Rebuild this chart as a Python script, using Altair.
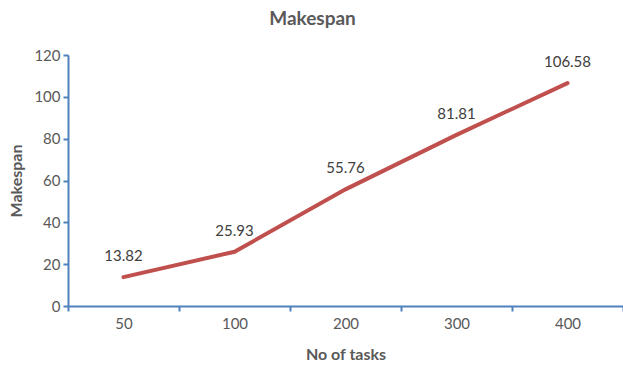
import altair as alt
import pandas as pd

# Makespan for each task count
tasks = ["50", "100", "200", "300", "400"]
makespan = [13.82, 25.93, 55.76, 81.81, 106.58]
labels = ["13.82", "25.93", "55.76", "81.81", "106.58"]

df = pd.DataFrame({"tasks": tasks, "makespan": makespan, "label": labels})

FONT = "Lato"
AXIS_BLUE = "#4F81BD"
TEXT_GREY = "#595959"
LINE_RED = "#C0504D"

x_enc = alt.X(
    "tasks:N",
    sort=tasks,
    bandPosition=0.5,
    scale=alt.Scale(type="band", paddingInner=0, paddingOuter=0),
    axis=alt.Axis(
        title="No of tasks",
        labelAngle=0,
        tickBand="extent",
        tickSize=5,
        labelPadding=5,
        titlePadding=15,
    ),
)
y_enc = alt.Y(
    "makespan:Q",
    scale=alt.Scale(domain=[0, 120], nice=False),
    axis=alt.Axis(
        title="Makespan",
        values=[0, 20, 40, 60, 80, 100, 120],
        tickSize=5,
        labelPadding=3,
        titlePadding=9,
        grid=False,
    ),
)

line = alt.Chart(df).mark_line(color=LINE_RED, strokeWidth=4, strokeCap="round").encode(
    x=x_enc, y=y_enc
)

text = alt.Chart(df).mark_text(
    dy=-21, font=FONT, fontSize=15, color="#404040"
).encode(x=x_enc, y=y_enc, text="label:N")

chart = (
    alt.layer(line, text)
    .properties(
        width=555,
        height=251,
        background="white",
        autosize=alt.AutoSizeParams(type="none"),
        padding={"left": 68, "top": 55, "right": 0, "bottom": 60},
        title=alt.TitleParams(
            "Makespan",
            font=FONT,
            fontSize=19,
            fontWeight="bold",
            color=TEXT_GREY,
            anchor="middle",
            offset=19,
            dx=-33,
        ),
    )
    .configure_view(stroke=None)
    .configure_axis(
        domainColor=AXIS_BLUE,
        domainWidth=2,
        tickColor=AXIS_BLUE,
        tickWidth=2,
        labelFont=FONT,
        labelFontSize=15,
        labelColor=TEXT_GREY,
        titleFont=FONT,
        titleFontSize=16,
        titleFontWeight="bold",
        titleColor=TEXT_GREY,
    )
)

chart.save("out.html", embed_options={"renderer": "svg", "actions": False})
